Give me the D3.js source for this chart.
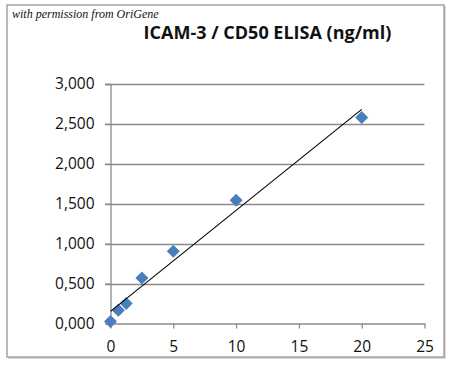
<!DOCTYPE html>
<html><head><meta charset="utf-8">
<script src="https://cdn.jsdelivr.net/npm/d3@7"></script>
<style>body{margin:0;background:#fff;} svg{display:block;}</style>
</head><body>
<svg id="c" width="450" height="367"></svg>
<script>
const concentrations = [0, 0.625, 1.25, 2.5, 5, 10, 20];
const odValues = [25, 167, 250, 571, 906, 1545, 2581];
const xTicks = [0, 5, 10, 15, 20, 25];
const yTicks = [0, 500, 1000, 1500, 2000, 2500, 3000];
const yTickLabels = ["0,000", "0,500", "1,000", "1,500", "2,000", "2,500", "3,000"];
const titleText = "ICAM-3 / CD50 ELISA (ng/ml)";
const creditText = "with permission from OriGene";

const svg = d3.select("#c");
const x = d3.scaleLinear().domain([0, 25]).range([110.5, 424.5]);
const y = d3.scaleLinear().domain([0, 3000]).range([323.5, 84]);

// outer frame with slight shadow
svg.append("rect").attr("x", 8).attr("y", 6).attr("width", 438).attr("height", 353)
  .attr("fill", "#d9d9d9");
svg.append("rect").attr("x", 7).attr("y", 5).attr("width", 437).attr("height", 352)
  .attr("fill", "#fff").attr("stroke", "#8c8c8c").attr("stroke-width", 1.2);

svg.append("text").attr("x", 12).attr("y", 18)
  .attr("font-family", "'Liberation Serif', serif").attr("font-style", "italic")
  .attr("font-size", 12).attr("fill", "#111").text(creditText);

svg.append("text").attr("x", 267.5).attr("y", 38.5).attr("text-anchor", "middle")
  .attr("font-family", "'Open Sans', sans-serif").attr("font-weight", "bold")
  .attr("font-size", 18).attr("fill", "#111").text(titleText);

// gridlines
const grid = svg.append("g");
grid.selectAll("line").data(yTicks.filter(d => d > 0)).join("line")
  .attr("x1", 105).attr("x2", 424.5)
  .attr("y1", d => Math.round(y(d)) + 0.5).attr("y2", d => Math.round(y(d)) + 0.5)
  .attr("stroke", "#8a8a8a").attr("stroke-width", 1.3);

// y axis
const yAxis = d3.axisLeft(y).tickValues(yTicks).tickSize(5).tickPadding(11)
  .tickFormat((d, i) => yTickLabels[i]);
const gy = svg.append("g").attr("transform", "translate(110.5,0)").call(yAxis);
gy.select(".domain").attr("stroke", "#8a8a8a").attr("stroke-width", 1.3);
gy.selectAll(".tick line").attr("stroke", "#8a8a8a").attr("stroke-width", 1.3);
gy.selectAll("text").attr("font-family", "'Open Sans', sans-serif").attr("font-size", 15.5).attr("fill", "#111");

// x axis
const xAxis = d3.axisBottom(x).tickValues(xTicks).tickSize(5).tickPadding(12).tickSizeOuter(0);
const gx = svg.append("g").attr("transform", "translate(0,323.5)").call(xAxis);
gx.select(".domain").attr("stroke", "#8a8a8a").attr("stroke-width", 1.3);
gx.selectAll(".tick line").attr("stroke", "#8a8a8a").attr("stroke-width", 1.3);
gx.selectAll("text").attr("font-family", "'Open Sans', sans-serif").attr("font-size", 15.5).attr("fill", "#111");

// linear trendline
const n = concentrations.length;
const mx = d3.mean(concentrations), my = d3.mean(odValues);
let sxy = 0, sxx = 0;
for (let i = 0; i < n; i++) { sxy += (concentrations[i]-mx)*(odValues[i]-my); sxx += (concentrations[i]-mx)**2; }
const slope = sxy / sxx, intercept = my - slope * mx;
const x0 = d3.min(concentrations), x1 = d3.max(concentrations);

// markers
svg.append("g").selectAll("path").data(concentrations).join("path")
  .attr("d", d3.symbol().type(d3.symbolSquare).size(85))
  .attr("transform", (d, i) => `translate(${x(d)},${y(odValues[i])}) rotate(45)`)
  .attr("fill", "#4a7ebb");

svg.append("line")
  .attr("x1", x(x0)).attr("y1", y(intercept + slope * x0))
  .attr("x2", x(x1)).attr("y2", y(intercept + slope * x1))
  .attr("stroke", "#000").attr("stroke-width", 1.1);
</script>
</body></html>
